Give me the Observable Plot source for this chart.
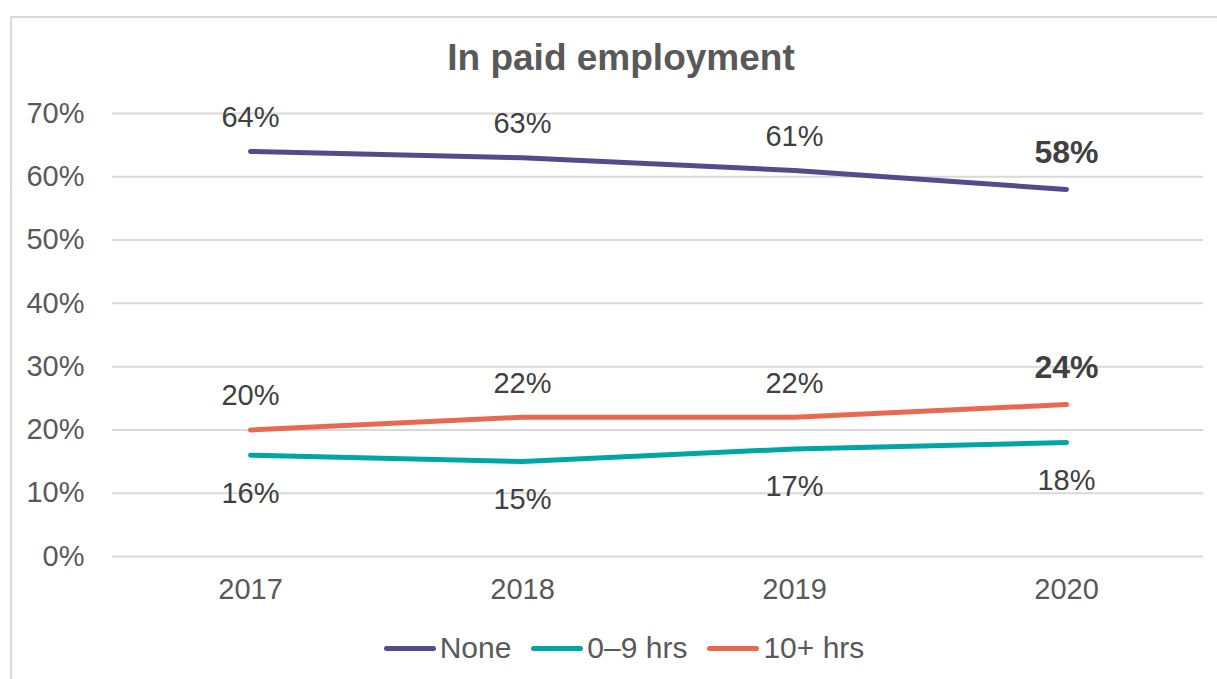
<!DOCTYPE html>
<html>
<head>
<meta charset="utf-8">
<script src="https://cdn.jsdelivr.net/npm/d3@7"></script>
<script src="https://cdn.jsdelivr.net/npm/@observablehq/plot@0.6"></script>
<style>
  html, body { margin: 0; padding: 0; background: #fff; }
  body { width: 1217px; height: 679px; position: relative; overflow: hidden; font-family: "Liberation Sans", Arial, sans-serif; }
  #frame { position: absolute; left: 10px; top: 16px; width: 1210px; height: 700px; border-left: 2px solid #d9d9d9; border-top: 2px solid #d9d9d9; box-sizing: border-box; }
  #title { position: absolute; left: 0; width: 1242px; top: 36px; text-align: center; font-size: 37px; font-weight: bold; color: #595959; line-height: 44px; }
  #chart { position: absolute; left: 0; top: 0; }
  #legend { position: absolute; left: 0; width: 1248px; top: 631px; display: flex; justify-content: center; gap: 20px; font-size: 30px; color: #595959; line-height: 34px; }
  .item { display: flex; align-items: center; }
  .swatch { display: inline-block; width: 52px; height: 5px; border-radius: 3px; margin-right: 4px; }
</style>
</head>
<body>
<div id="frame"></div>
<div id="title">In paid employment</div>
<div id="chart"></div>
<div id="legend"></div>
<script>
const years = ["2017", "2018", "2019", "2020"];
const seriesNames = ["None", "0–9 hrs", "10+ hrs"];
const noneValues = [0.64, 0.63, 0.61, 0.58];
const lowValues = [0.16, 0.15, 0.17, 0.18];
const highValues = [0.20, 0.22, 0.22, 0.24];
const colors = ["#544a8c", "#00a6a6", "#e8694f"];
const yTicks = [0, 0.1, 0.2, 0.3, 0.4, 0.5, 0.6, 0.7];
const boldSeries = ["None", "10+ hrs"];

const valuesBySeries = [noneValues, lowValues, highValues];
const data = [];
seriesNames.forEach((s, i) => {
  years.forEach((y, j) => {
    data.push({series: s, year: y, value: valuesBySeries[i][j], last: j === years.length - 1});
  });
});
const labelOffset = {"None": -34, "0–9 hrs": 38, "10+ hrs": -34};
const fmt = d => Math.round(d.value * 100) + "%";

const labelMarks = [];
seriesNames.forEach(s => {
  const isBold = boldSeries.includes(s);
  labelMarks.push(Plot.text(data.filter(d => d.series === s && !(isBold && d.last)), {
    x: "year", y: "value", text: fmt, dy: labelOffset[s], fill: "#404040", fontSize: 29
  }));
  if (isBold) {
    labelMarks.push(Plot.text(data.filter(d => d.series === s && d.last), {
      x: "year", y: "value", text: fmt, dy: -37, fill: "#404040", fontSize: 32, fontWeight: "bold"
    }));
  }
});

const plot = Plot.plot({
  width: 1217,
  height: 620,
  marginLeft: 112,
  marginRight: 14,
  marginTop: 113,
  marginBottom: 64,
  style: {fontFamily: "'Liberation Sans', Arial, sans-serif", fontSize: "29px", color: "#595959", background: "transparent"},
  x: {type: "band", domain: years, padding: 0, label: null, tickSize: 0, tickPadding: 22},
  y: {domain: [0, 0.7], ticks: yTicks, tickFormat: d => Math.round(d * 100) + "%", label: null, tickSize: 0, tickPadding: 28, grid: false},
  color: {domain: seriesNames, range: colors},
  marks: [
    Plot.ruleY(yTicks, {stroke: "#d9d9d9", strokeWidth: 2, strokeOpacity: 1}),
    Plot.line(data, {x: "year", y: "value", z: "series", stroke: "series", strokeWidth: 5, strokeLinecap: "round", strokeLinejoin: "round"}),
    ...labelMarks
  ]
});
document.getElementById("chart").appendChild(plot);

const legend = document.getElementById("legend");
seriesNames.forEach((s, i) => {
  const item = document.createElement("div");
  item.className = "item";
  const sw = document.createElement("span");
  sw.className = "swatch";
  sw.style.background = colors[i];
  item.appendChild(sw);
  const t = document.createElement("span");
  t.textContent = s;
  item.appendChild(t);
  legend.appendChild(item);
});
</script>
</body>
</html>
